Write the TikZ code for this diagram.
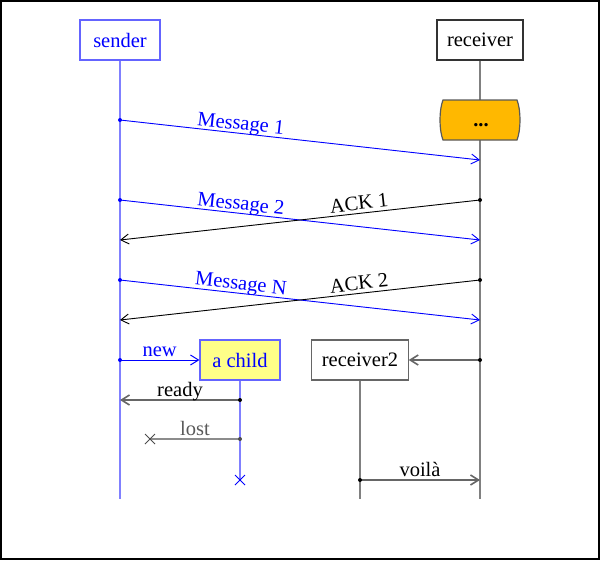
\documentclass[tikz,border=0pt]{standalone}
\usepackage{fontspec}
\setmainfont{Liberation Serif}
\usetikzlibrary{arrows.meta,calc}
\definecolor{lifeblue}{RGB}{128,128,255}
\definecolor{boxblue}{RGB}{100,100,255}
\definecolor{dotsfill}{RGB}{255,184,0}
\definecolor{childfill}{RGB}{255,255,136}
\definecolor{lifegray}{RGB}{128,128,128}
\begin{document}
\begin{tikzpicture}[x=1pt,y=-1pt,
  font=\fontsize{20.5}{24}\selectfont,
  obj/.style={draw, fill=white, minimum width=80pt, minimum height=40pt, inner xsep=10pt, inner ysep=0pt, line width=1.2pt},
  tipx/.style={-{Straight Barb[length=8pt,width=10pt]}},
  msg/.style={tipx, line width=0.9pt},
  lbl/.style={inner sep=3pt, text depth=0pt},
  life/.style={line width=1.8pt},
  dotmark/.style={radius=2pt}
]
\useasboundingbox (0,0) rectangle (600,560);
\draw[line width=2pt] (1,1) rectangle (599,559);

% lifelines
\coordinate (sendEnd) at (120,499);
\coordinate (recvEnd) at (480,499);
\coordinate (r2End) at (360,499);
\coordinate (childEnd) at (240,480);

\node[obj, draw=boxblue, text=blue] (sender) at (120,40) {sender};
\node[obj, draw=black!80] (receiver) at (480,40) {receiver};
\draw[life, lifeblue] (sender.south) -- (sendEnd);
\draw[life, lifegray] (receiver.south) -- (recvEnd);

% dots box
\draw[line width=1.2pt, draw=black!65, fill=dotsfill]
  (443,100) -- (517,100) .. controls (521,110) and (521,130) .. (517,140)
  -- (443,140) .. controls (439,130) and (439,110) .. (443,100) -- cycle;
\node[anchor=base, inner sep=0pt] (dots) at (481,126) {\textbf{...}};

% Message 1
\coordinate (m1s) at (120,120); \coordinate (m1e) at (480,160);
\draw[msg, blue] (m1s) -- node[lbl, sloped, above, pos=0.333] {Message 1} (m1e);
\fill[blue] (m1s) circle[dotmark];

% Message 2 / ACK 1
\coordinate (m2s) at (120,200); \coordinate (m2e) at (480,240);
\coordinate (a1s) at (480,200); \coordinate (a1e) at (120,240);
\draw[msg, blue] (m2s) -- node[lbl, sloped, above, pos=0.333] {Message 2} (m2e);
\draw[msg, black] (a1s) -- node[lbl, sloped, above, pos=0.333] {ACK 1} (a1e);
\fill[blue] (m2s) circle[dotmark];
\fill[black] (a1s) circle[dotmark];

% Message N / ACK 2
\coordinate (m3s) at (120,280); \coordinate (m3e) at (480,320);
\coordinate (a2s) at (480,280); \coordinate (a2e) at (120,320);
\draw[msg, blue] (m3s) -- node[lbl, sloped, above, pos=0.333] {Message N} (m3e);
\draw[msg, black] (a2s) -- node[lbl, sloped, above, pos=0.333] {ACK 2} (a2e);
\fill[blue] (m3s) circle[dotmark];
\fill[black] (a2s) circle[dotmark];

% child
\node[obj, draw=boxblue, fill=childfill, text=blue] (child) at (240,360) {a child};
\draw[life, lifeblue] (child.south) -- (childEnd);
\draw[blue, line width=1pt] ($(childEnd)+(-5,-5)$) -- ($(childEnd)+(5,5)$)
  ($(childEnd)+(-5,5)$) -- ($(childEnd)+(5,-5)$);
\coordinate (newS) at (120,360);
\draw[msg, blue, line width=1pt] (newS) -- node[lbl, above, text=blue] {new} (child.west);
\fill[blue] (newS) circle[dotmark];

% ready
\coordinate (readyS) at (240,400); \coordinate (readyE) at (120,400);
\draw[msg, black!60, line width=1.6pt] (readyS) -- node[lbl, above, text=black] {ready} (readyE);
\fill[black] (readyS) circle[dotmark];

% lost
\coordinate (lostS) at (240,439); \coordinate (lostE) at (150,439);
\draw[black!45, line width=1.6pt] (lostS) -- node[lbl, above, text=black!65] {lost} (lostE);
\draw[black!70, line width=1pt] ($(lostE)+(-5,-5)$) -- ($(lostE)+(5,5)$)
  ($(lostE)+(-5,5)$) -- ($(lostE)+(5,-5)$);
\fill[black!70] (lostS) circle[dotmark];

% receiver2
\node[obj, draw=black!60] (receiver2) at (360,360) {receiver2};
\draw[life, lifegray] (receiver2.south) -- (r2End);
\coordinate (r2S) at (480,360);
\draw[msg, black!60, line width=1.6pt] (r2S) -- (receiver2.east);
\fill[black] (r2S) circle[dotmark];

% voila
\coordinate (vS) at (360,480); \coordinate (vE) at (480,480);
\draw[msg, black!60, line width=1.6pt] (vS) -- node[lbl, above, text=black] {voilà} (vE);
\fill[black] (vS) circle[dotmark];
\end{tikzpicture}
\end{document}
